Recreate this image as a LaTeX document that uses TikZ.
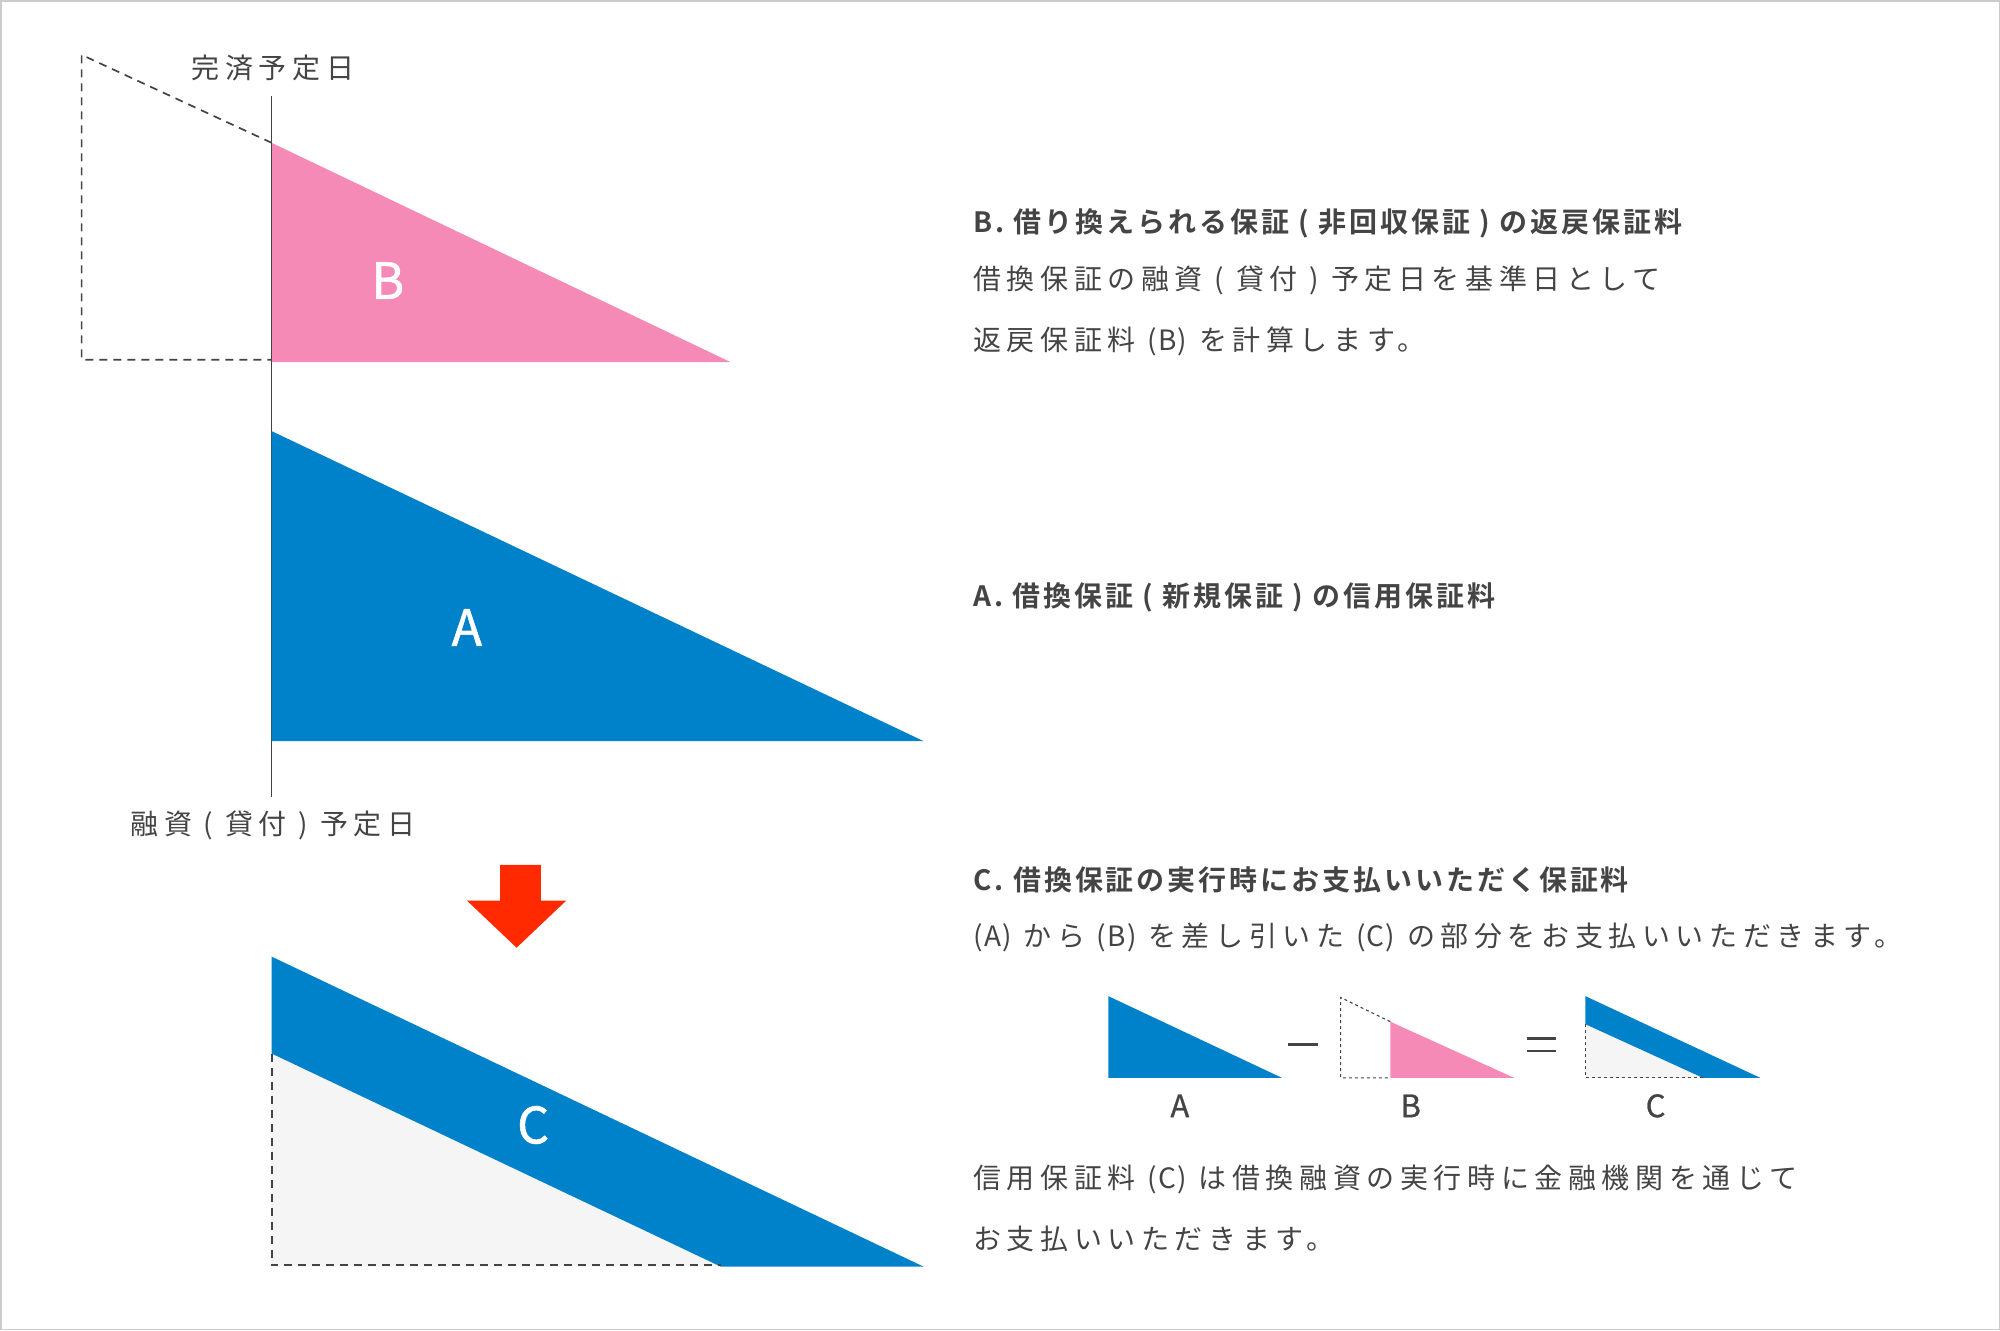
\documentclass[tikz,border=0pt]{standalone}
\usepackage{fontspec}
\setmainfont{Noto Sans CJK JP}
\newfontfamily\jpt[LetterSpace=20]{Noto Sans CJK JP}
\newfontfamily\jpb[LetterSpace=10.5]{Noto Sans CJK JP Bold}
\newfontfamily\bigf[FakeBold=1.2]{Noto Sans CJK JP}
\newfontfamily\smf[FakeBold=0.8]{Noto Sans CJK JP}
\newcommand{\lat}[1]{{\fontspec[LetterSpace=4]{Noto Sans CJK JP}#1}}
\definecolor{txtgray}{HTML}{444444}
\definecolor{bluec}{HTML}{0082CA}
\definecolor{pinkc}{HTML}{F68AB7}
\definecolor{redc}{HTML}{FF2A00}
\definecolor{lightg}{HTML}{F5F5F5}
\definecolor{framec}{HTML}{CCCCCC}
\begin{document}
\begin{tikzpicture}[x=1.2755pt,y=-1.2755pt,
  txt/.style={text=txtgray,font=\jpt\fontsize{28}{32}\selectfont,inner sep=0pt,anchor=west},
  hdr/.style={text=txtgray,font=\jpb\fontsize{28}{32}\selectfont,inner sep=0pt,anchor=west},
  big/.style={text=white,font=\bigf\fontsize{50}{52}\selectfont,inner sep=0pt},
  small/.style={text=txtgray,font=\smf\fontsize{31}{33}\selectfont,inner sep=0pt},
  dashl/.style={draw=txtgray,line width=1.7pt,dash pattern=on 8pt off 6pt},
  dashs/.style={draw=txtgray,line width=1.1pt,dash pattern=on 3pt off 3pt}]
\useasboundingbox (0,0) rectangle (1568,1043);
\draw[framec,line width=1.5pt] (0.6,0.6) rectangle (1567.4,1042.4);

% B triangle
\fill[pinkc] (213,112) -- (213,284) -- (573,284) -- cycle;
\draw[dashl] (213,112) -- (64,43) -- (64,282) -- (213,282);
\draw[txtgray,line width=1pt] (213,75) -- (213,625);
\node[big] (lb) at (304,220) {B};
\node[txt,anchor=center] (t1) at (214,53) {完済予定日};

% A triangle
\fill[bluec] (213,338) -- (213,581) -- (724,581) -- cycle;
\node[big] (la) at (366,492) {A};
\node[txt,anchor=center] (t2) at (214,647) {融資 ( 貸付 ) 予定日};

% arrow
\fill[redc] (392,678) -- (424,678) -- (424,706) -- (444,706) -- (405,743) -- (366,706) -- (392,706) -- cycle;

% C triangle
\fill[lightg] (213,826) -- (565,993) -- (213,993) -- cycle;
\fill[bluec] (213,750) -- (724,993) -- (565,993) -- (213,826) -- cycle;
\draw[dashl] (213,826) -- (213,992) -- (565,992);
\node[big] (lc) at (418,882) {C};

% right texts
\node[hdr] (h1) at (763,175) {B. 借り換えられる保証 ( 非回収保証 ) の返戻保証料};
\node[txt] (b1) at (763,220) {借換保証の融資 ( 貸付 ) 予定日を基準日として};
\node[txt] (b2) at (763,268) {返戻保証料 \lat{(B)} を計算します。};
\node[hdr] (h2) at (763,468) {A. 借換保証 ( 新規保証 ) の信用保証料};
\node[hdr] (h3) at (763,690) {C. 借換保証の実行時にお支払いいただく保証料};
\node[txt] (c1) at (763,735) {\lat{(A)} から \lat{(B)} を差し引いた \lat{(C)} の部分をお支払いいただきます。};
\node[txt] (c2) at (763,925) {信用保証料 \lat{(C)} は借換融資の実行時に金融機関を通じて};
\node[txt] (c3) at (763,971) {お支払いいただきます。};

% small equation
\fill[bluec] (869,781) -- (869,845) -- (1005,845) -- cycle;
\draw[txtgray,line width=2.5pt] (1010,819) -- (1033,819);
\fill[pinkc] (1090,801) -- (1090,845) -- (1187,845) -- cycle;
\draw[dashs] (1090,801) -- (1051,782) -- (1051,845) -- (1090,845);
\draw[txtgray,line width=2.5pt] (1197,814) -- (1220,814) (1197,824) -- (1220,824);
\fill[lightg] (1243,803) -- (1335,845) -- (1243,845) -- cycle;
\fill[bluec] (1243,781) -- (1380,845) -- (1335,845) -- (1243,803) -- cycle;
\draw[dashs] (1243,803) -- (1243,845) -- (1335,845);
\node[small] (sa) at (925,867) {A};
\node[small] (sb) at (1106,867) {B};
\node[small] (sc) at (1298,867) {C};
\end{tikzpicture}
\end{document}
